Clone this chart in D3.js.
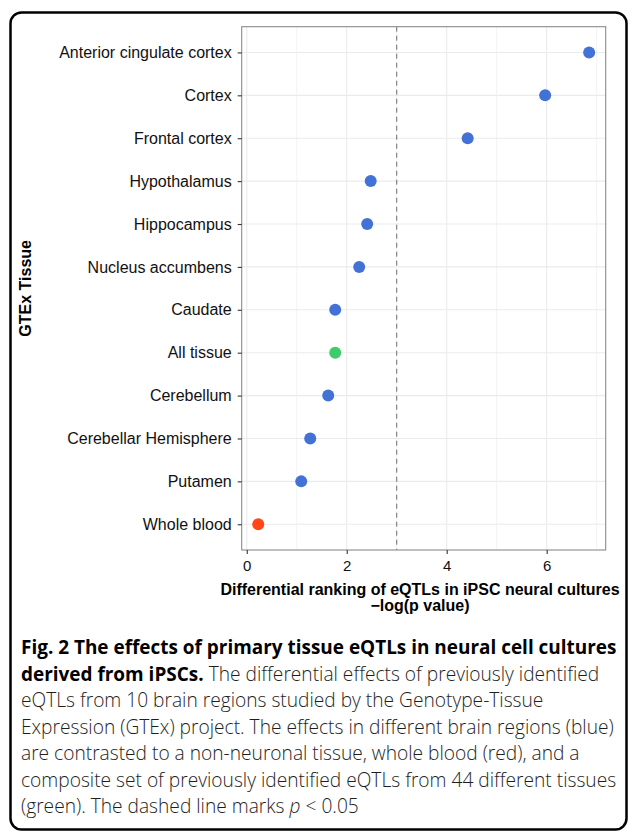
<!DOCTYPE html>
<html>
<head>
<meta charset="utf-8">
<script src="https://cdn.jsdelivr.net/npm/d3@7"></script>
<style>
  html, body { margin: 0; padding: 0; background: #fff; }
  svg { display: block; }
</style>
</head>
<body>
<svg id="chart" width="629" height="831"></svg>
<script>
// ---- data ----
const categories = ["Anterior cingulate cortex", "Cortex", "Frontal cortex", "Hypothalamus",
  "Hippocampus", "Nucleus accumbens", "Caudate", "All tissue", "Cerebellum",
  "Cerebellar Hemisphere", "Putamen", "Whole blood"];
const values = [6.85, 5.97, 4.42, 2.48, 2.41, 2.25, 1.77, 1.77, 1.63, 1.27, 1.09, 0.23];
const groups = ["brain", "brain", "brain", "brain", "brain", "brain", "brain",
  "composite", "brain", "brain", "brain", "blood"];
const xTicks = [0, 2, 4, 6];
const xMinorTicks = [1, 3, 5, 7];
const threshold = 3;
const xTitle = ["Differential ranking of eQTLs in iPSC neural cultures", "\u2212log(p value)"];
const yTitle = "GTEx Tissue";
const captionLines = [
  [{t: "Fig. 2 The effects of primary tissue eQTLs in neural cell cultures", b: true}],
  [{t: "derived from iPSCs.", b: true}, {t: " The differential effects of previously identified"}],
  [{t: "eQTLs from 10 brain regions studied by the Genotype-Tissue"}],
  [{t: "Expression (GTEx) project. The effects in different brain regions (blue)"}],
  [{t: "are contrasted to a non-neuronal tissue, whole blood (red), and a"}],
  [{t: "composite set of previously identified eQTLs from 44 different tissues"}],
  [{t: "(green). The dashed line marks "}, {t: "p", i: true}, {t: " < 0.05"}]
];

const colors = {brain: "#4272d5", composite: "#3ecb6b", blood: "#ff4719"};
const data = categories.map((c, i) => ({cat: c, v: values[i], g: groups[i]}));
const SANS = "'Liberation Sans', Arial, Helvetica, sans-serif";
const CAPFONT = "'Open Sans', 'Noto Sans', sans-serif";

const svg = d3.select("#chart");

// outer frame
svg.append("rect")
  .attr("x", 10.5).attr("y", 12.5).attr("width", 616).attr("height", 817)
  .attr("rx", 11).attr("ry", 11)
  .attr("fill", "none").attr("stroke", "#000").attr("stroke-width", 2.5);

// panel
const P = {left: 241.7, right: 605.7, top: 26.7, bottom: 550};

const ext = d3.extent(values);
const pad = (ext[1] - ext[0]) * 0.05;
const x = d3.scaleLinear().domain([ext[0] - pad, ext[1] + pad]).range([P.left, P.right]);
const y = d3.scalePoint().domain(categories).range([P.top, P.bottom]).padding(0.6);

const g = svg.append("g");

// grid
g.selectAll(".minor").data(xMinorTicks).enter().append("line")
  .attr("x1", d => x(d)).attr("x2", d => x(d))
  .attr("y1", P.top).attr("y2", P.bottom)
  .attr("stroke", "#f0f0f0").attr("stroke-width", 0.8);
g.selectAll(".major").data(xTicks).enter().append("line")
  .attr("x1", d => x(d)).attr("x2", d => x(d))
  .attr("y1", P.top).attr("y2", P.bottom)
  .attr("stroke", "#ebebeb").attr("stroke-width", 1.1);
g.selectAll(".hgrid").data(categories).enter().append("line")
  .attr("x1", P.left).attr("x2", P.right)
  .attr("y1", d => y(d)).attr("y2", d => y(d))
  .attr("stroke", "#ebebeb").attr("stroke-width", 1.1);

// threshold
g.append("line")
  .attr("x1", x(threshold)).attr("x2", x(threshold))
  .attr("y1", P.top).attr("y2", P.bottom)
  .attr("stroke", "#6e6e6e").attr("stroke-width", 1)
  .attr("stroke-dasharray", "5,4");

// points
g.selectAll("circle").data(data).enter().append("circle")
  .attr("cx", d => x(d.v)).attr("cy", d => y(d.cat)).attr("r", 6)
  .attr("fill", d => colors[d.g]);

// panel border
g.append("rect")
  .attr("x", P.left).attr("y", P.top)
  .attr("width", P.right - P.left).attr("height", P.bottom - P.top)
  .attr("fill", "none").attr("stroke", "#8a8a8a").attr("stroke-width", 1.1);

// axes
const xAxis = svg.append("g").attr("transform", `translate(0,${P.bottom})`)
  .call(d3.axisBottom(x).tickValues(xTicks).tickFormat(d3.format("d")).tickSize(4).tickPadding(6));
const yAxis = svg.append("g").attr("transform", `translate(${P.left},0)`)
  .call(d3.axisLeft(y).tickSize(4).tickPadding(6));
[xAxis, yAxis].forEach(a => {
  a.attr("font-family", null).attr("font-size", null);
  a.select(".domain").remove();
  a.selectAll(".tick line").attr("stroke", "#333").attr("stroke-width", 1.1);
  a.selectAll(".tick text").attr("fill", "#111").style("font-family", SANS);
});
xAxis.selectAll(".tick text").style("font-size", "15px");
yAxis.selectAll(".tick text").style("font-size", "16px");

// axis titles
const xt = svg.append("text")
  .attr("text-anchor", "middle")
  .style("font-family", SANS)
  .style("font-size", "16px").style("font-weight", "bold").attr("fill", "#000");
xt.append("tspan").attr("x", 420).attr("y", 595).text(xTitle[0]);
xt.append("tspan").attr("x", 420).attr("y", 611).text(xTitle[1]);

svg.append("text")
  .attr("transform", `translate(31,${(P.top + P.bottom) / 2}) rotate(-90)`)
  .attr("text-anchor", "middle")
  .style("font-family", SANS)
  .style("font-size", "16px").style("font-weight", "bold").attr("fill", "#000")
  .text(yTitle);

// caption: bold and regular runs are condensed separately to match the narrow face
const cap = svg.append("g");
const lineH = 26.5, firstBase = 654, capLeft = 21;
function styleRun(t, p) {
  return t.style("font-family", CAPFONT)
    .style("font-size", "20px")
    .style("font-weight", p.b ? "700" : "300")
    .style("font-style", p.i ? "italic" : "normal")
    .style("white-space", "pre")
    .attr("fill", p.b ? "#000" : "#1e1e1e");
}
function natural(p) {
  const t = styleRun(svg.append("text"), p).text(p.t);
  const w = t.node().getComputedTextLength();
  t.remove();
  return w;
}
function makeRun(p, xPos, yPos, k) {
  const grp = cap.append("g");
  const t = styleRun(grp.append("text").attr("x", 0).attr("y", 0), p).text(p.t);
  const w = t.node().getComputedTextLength();
  grp.attr("transform", `translate(${xPos},${yPos}) scale(${k},1)`);
  return w * k;
}
const kBold = (617 - capLeft) / natural(captionLines[0][0]);
const kReg = (614 - capLeft) / natural(captionLines[3][0]);
captionLines.forEach((parts, i) => {
  let cx = capLeft;
  parts.forEach(p => {
    cx += makeRun(p, cx, firstBase + i * lineH, p.b ? kBold : kReg);
  });
});
</script>
</body>
</html>
